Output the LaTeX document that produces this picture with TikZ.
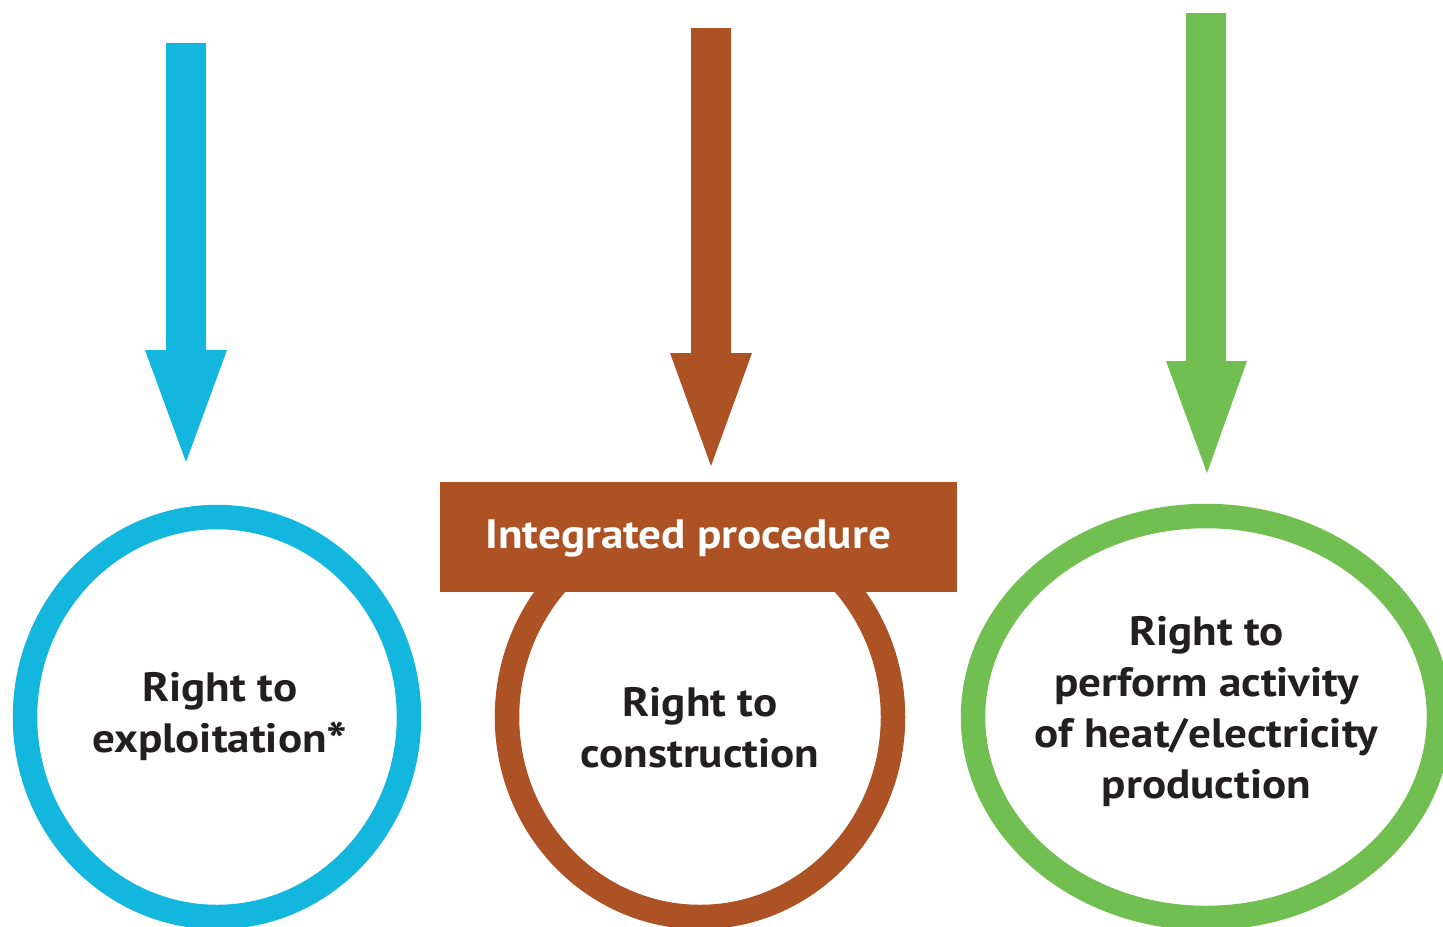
\documentclass[tikz,border=0pt]{standalone}
\usepackage{fontspec}
\setmainfont[FakeStretch=1.1]{PT Sans}
\usetikzlibrary{shapes.geometric}
\definecolor{cblue}{RGB}{19,182,220}
\definecolor{cbrown}{RGB}{173,82,36}
\definecolor{cgreen}{RGB}{112,191,80}
\definecolor{ctext}{RGB}{35,31,32}
\begin{document}
\begin{tikzpicture}[x=0.5pt,y=-0.5pt,
  ring/.style={ellipse, draw, line width=12.25pt, fill=white, inner sep=0pt},
  lbl/.style={font=\fontsize{20.5pt}{25.5pt}\selectfont\bfseries, text=ctext, align=center, inner sep=0pt, anchor=base},
  banner/.style={fill=cbrown, minimum width=258.5pt, minimum height=55pt, inner sep=0pt},
  bantext/.style={font=\fontsize{20.5pt}{25.5pt}\selectfont\bfseries, text=white, inner sep=0pt, anchor=base west}
]
\useasboundingbox (0,0) rectangle (1443,926);
% arrows
\coordinate (tipA) at (186,462);
\coordinate (tipB) at (711,466);
\coordinate (tipC) at (1207,473);
\fill[cblue] (tipA) -- ++(-41,-112) -- ++(21,0) -- ++(0,-307) -- ++(40,0) -- ++(0,307) -- ++(21,0) -- cycle;
\fill[cbrown] (tipB) -- ++(-41,-113) -- ++(21,0) -- ++(0,-325) -- ++(40,0) -- ++(0,325) -- ++(21,0) -- cycle;
\fill[cgreen] (tipC) -- ++(-41,-112) -- ++(20,0) -- ++(0,-348) -- ++(40,0) -- ++(0,348) -- ++(21,0) -- cycle;
% rings
\node[ring, draw=cblue, minimum width=192pt, minimum height=200pt] (exp) at (217,717) {};
\node[ring, draw=cbrown, minimum width=193pt, minimum height=200pt] (con) at (700,717) {};
\node[ring, draw=cgreen, minimum width=233pt, minimum height=201pt] (heat) at (1206,717) {};
% banner
\node[banner] (ip) at (698.5,537) {};
\node[bantext] (iptext) at (485,548) {Integrated procedure};
% labels (base = baseline of last line)
\node[lbl] (expt) at (220,752) {Right to\\exploitation\raisebox{-3pt}{\fontsize{25pt}{25pt}\selectfont *}};
\node[lbl] (cont) at (700,767) {Right to\\construction};
\node[lbl] (heatt) at (1206.5,798) {Right to\\perform activity\\of heat/electricity\\production};
\end{tikzpicture}
\end{document}
